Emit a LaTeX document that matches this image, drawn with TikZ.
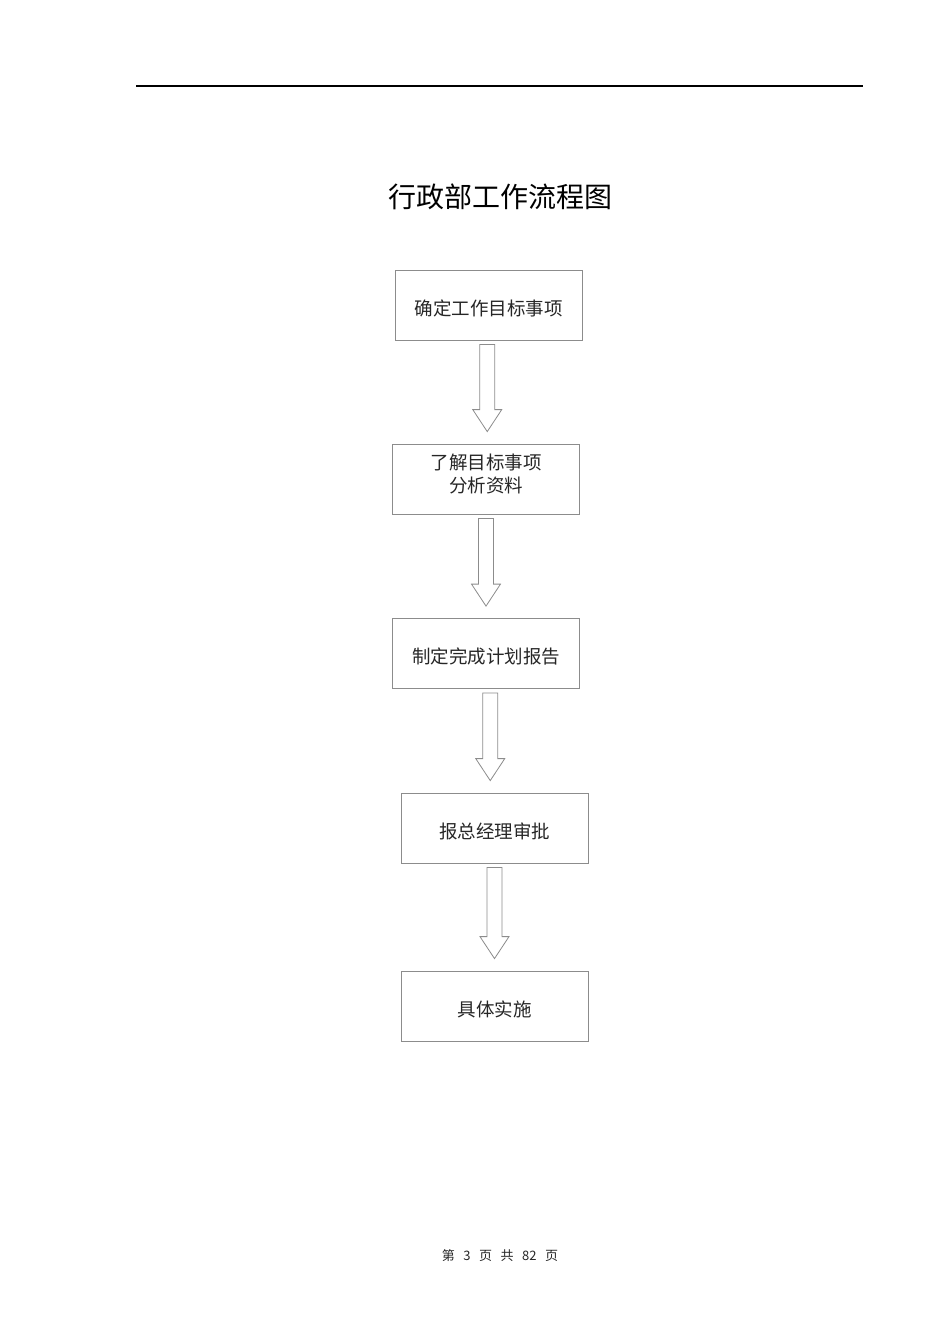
\documentclass[tikz,border=0pt]{standalone}
\usepackage{fontspec}
\newfontfamily\cjk{Noto Sans CJK SC}
\usetikzlibrary{calc,positioning}
\definecolor{boxgray}{gray}{0.55}
\tikzstyle{stepnode}=[%
	draw=boxgray,
	line width=0.8pt,
	minimum width=187pt,
	minimum height=70pt,
	inner sep=0pt,
	align=center,
	text height=22pt,
	font=\cjk\fontsize{18.5}{23}\selectfont,
	text=black!85,
	]
\tikzstyle{hollowarrow}=[%
	draw=boxgray,
	line width=0.8pt,
	fill=white,
	]
\newcommand{\flowarrow}[2]{%
	\draw[hollowarrow] let \p1=(#1.south), \p2=(#2.north), \n1={(\x1+\x2)/2} in
		(\n1-7.5pt,\y1-4pt) -- (\n1+7.5pt,\y1-4pt) -- (\n1+7.5pt,\y2+34pt) -- (\n1+14.5pt,\y2+34pt)
		-- (\n1,\y2+12pt) -- (\n1-14.5pt,\y2+34pt) -- (\n1-7.5pt,\y2+34pt) -- cycle;}
\newcommand{\gap}{\hspace{8.5pt}}
\begin{document}
\begin{tikzpicture}[x=1pt,y=-1pt]%
          \useasboundingbox (0,0) rectangle (950,1344);%
          \coordinate (ruleL) at (136,86);
          \coordinate (ruleR) at (863,86);
          \draw[line width=1.2pt] (ruleL) -- (ruleR);%

          \node[font=\cjk\fontsize{28}{32}\selectfont](title) at (500,197){行政部工作流程图};

          \node[stepnode](confirm) at (488.5,305){确定工作目标事项};
          \node[stepnode,text height=,text depth=11pt](analyse) at (486,479){了解目标事项\\分析资料};
          \node[stepnode](plan) at (486,653.5){制定完成计划报告};
          \node[stepnode](approve) at (494.5,828){报总经理审批};
          \node[stepnode](implement) at (494.5,1006){具体实施};

          \flowarrow{confirm}{analyse}%
          \flowarrow{analyse}{plan}%
          \flowarrow{plan}{approve}%
          \flowarrow{approve}{implement}%

          \node[font=\cjk\fontsize{13}{15}\selectfont,text=black!85](footer) at (500,1256){第\gap 3\gap 页\gap 共\gap 82\gap 页};
        \end{tikzpicture}
\end{document}
